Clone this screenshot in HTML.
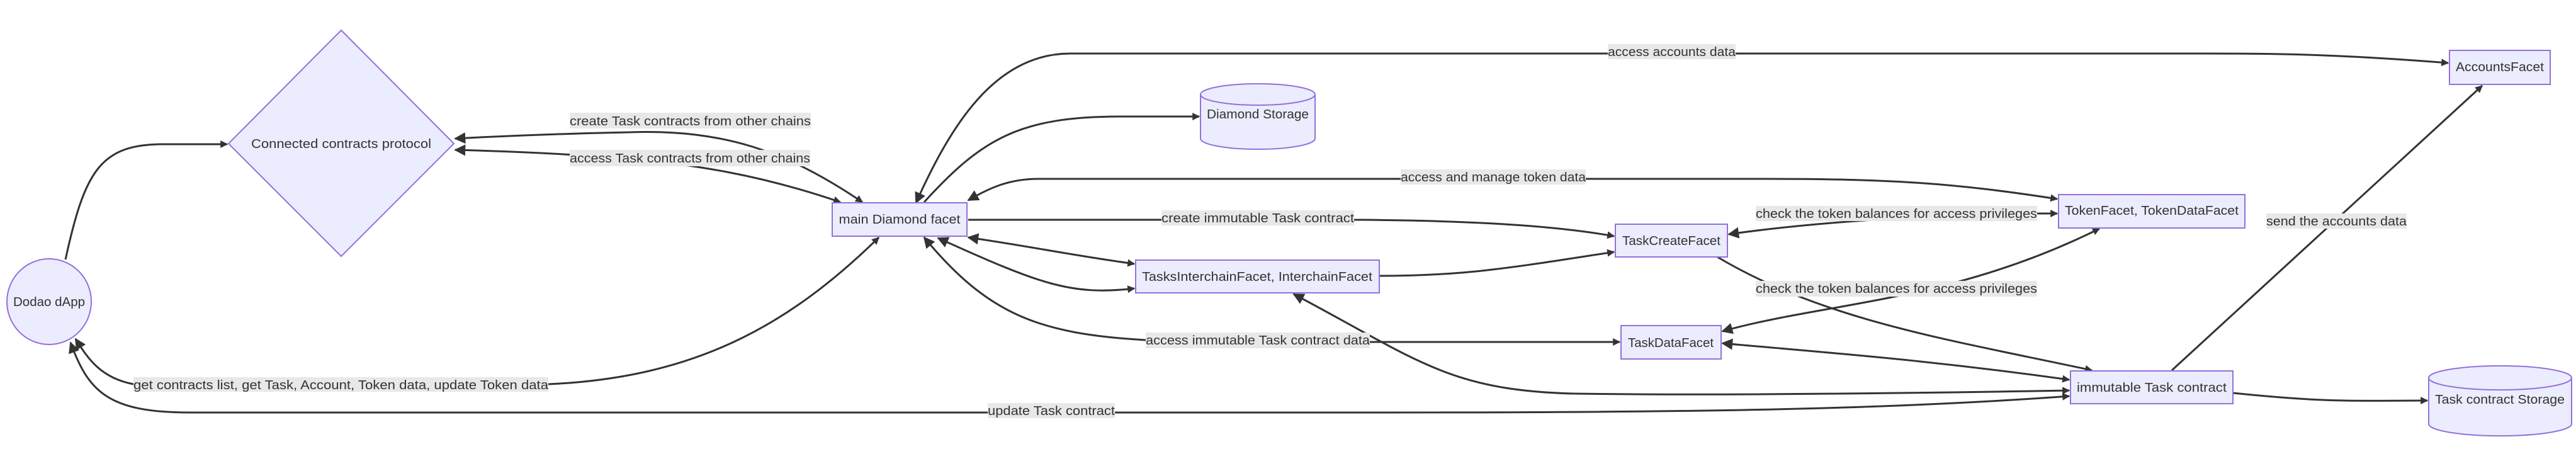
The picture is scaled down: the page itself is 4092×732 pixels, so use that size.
<!DOCTYPE html>
<html><head><meta charset="utf-8"><style>
html,body{margin:0;padding:0;background:#fff;}
svg{display:block}
.n{fill:#ECECFF;stroke:#9370DB;stroke-width:2}
.e{fill:none;stroke:#333;stroke-width:3}
.t{font-family:"Liberation Sans",sans-serif;font-size:20px;fill:#333;}
.lb{fill:#e8e8e8}
</style></head><body>
<svg width="4092" height="732" viewBox="0 0 4092 732" xmlns="http://www.w3.org/2000/svg">
<defs>
<marker id="s" viewBox="0 0 10 10" refX="9" refY="5" markerWidth="4" markerHeight="4" orient="auto-start-reverse"><path d="M0,0L10,5L0,10z" fill="#333"/></marker>
<marker id="b" viewBox="0 0 10 10" refX="9" refY="5" markerWidth="6" markerHeight="6" orient="auto-start-reverse"><path d="M0,0L10,5L0,10z" fill="#333"/></marker>
</defs>

<!-- edges -->
<path class="e" d="M104,412 C135,270 160,229 260,229 L361,229" marker-end="url(#s)"/>
<path class="e" d="M1370,321 C1250,240 1150,205 1000,210 C900,212 800,216 723,220" marker-start="url(#s)" marker-end="url(#b)"/>
<path class="e" d="M1335,321 C1200,275 1100,262 1000,252 C900,244 800,240 723,238" marker-start="url(#s)" marker-end="url(#b)"/>
<path class="e" d="M1396,377 C1250,520 1100,600 871,610 L212,610 C160,600 140,570 120,538" marker-start="url(#s)" marker-end="url(#b)"/>
<path class="e" d="M3287,629 C3000,650 2700,655 2200,655 L300,655 C170,655 140,620 112,544" marker-start="url(#s)" marker-end="url(#b)"/>
<path class="e" d="M3889,100 C3700,85 3600,85 3500,85 L1700,85 C1580,85 1510,200 1455,322" marker-start="url(#s)" marker-end="url(#b)"/>
<path class="e" d="M1468,321 C1560,220 1620,185 1780,185 L1905,185" marker-end="url(#s)"/>
<path class="e" d="M3268,316 C3100,290 3000,284 2800,284 L1650,284 C1600,284 1570,300 1538,318" marker-start="url(#s)" marker-end="url(#b)"/>
<path class="e" d="M1538,349 L2151,349 C2300,350 2450,355 2564,375" marker-end="url(#s)"/>
<path class="e" d="M1802,419 C1700,405 1630,390 1538,377" marker-start="url(#s)" marker-end="url(#b)"/>
<path class="e" d="M1802,458 C1700,470 1650,450 1490,378" marker-start="url(#s)" marker-end="url(#b)"/>
<path class="e" d="M2573,543 L2176,543 L1820,540 C1650,530 1570,500 1468,377" marker-start="url(#s)" marker-end="url(#b)"/>
<path class="e" d="M2191,438 C2330,438 2400,425 2564,400" marker-end="url(#s)"/>
<path class="e" d="M3268,339 L3236,339 C3100,340 2900,350 2746,372" marker-start="url(#s)" marker-end="url(#b)"/>
<path class="e" d="M2728,408 C2900,510 3100,540 3323,588" marker-end="url(#s)"/>
<path class="e" d="M3335,363 C3100,480 2900,480 2736,526" marker-start="url(#s)" marker-end="url(#b)"/>
<path class="e" d="M3287,603 C3050,570 2900,560 2736,545" marker-start="url(#s)" marker-end="url(#b)"/>
<path class="e" d="M3287,620 C3000,625 2700,628 2500,625 C2300,620 2250,570 2055,467" marker-start="url(#s)" marker-end="url(#b)"/>
<path class="e" d="M3450,588 L3943,136" marker-end="url(#s)"/>
<path class="e" d="M3547,624 C3700,640 3750,636 3856,636" marker-end="url(#s)"/>

<!-- nodes -->
<polygon class="n" points="542,48 721,228 542,407 363,228"/>
<text class="t" x="542" y="235" text-anchor="middle" textLength="286" lengthAdjust="spacingAndGlyphs">Connected contracts protocol</text>
<ellipse class="n" cx="78" cy="479" rx="67" ry="68"/>
<text class="t" x="78" y="486" text-anchor="middle" textLength="114" lengthAdjust="spacingAndGlyphs">Dodao dApp</text>

<rect class="n" x="1322" y="322" width="214" height="53"/>
<text class="t" x="1429" y="355" text-anchor="middle" textLength="193" lengthAdjust="spacingAndGlyphs">main Diamond facet</text>

<path class="n" d="M1907,150 A91,17 0 0 1 2089,150 L2089,220 A91,17 0 0 1 1907,220 Z"/>
<path d="M1907,150 A91,17 0 0 0 2089,150" fill="none" stroke="#9370DB" stroke-width="2"/>
<text class="t" x="1998" y="188" text-anchor="middle" textLength="162" lengthAdjust="spacingAndGlyphs">Diamond Storage</text>

<rect class="n" x="2566" y="356" width="178" height="52"/>
<text class="t" x="2655" y="389" text-anchor="middle" textLength="156" lengthAdjust="spacingAndGlyphs">TaskCreateFacet</text>
<rect class="n" x="1804" y="413" width="387" height="52"/>
<text class="t" x="1997" y="446" text-anchor="middle" textLength="366" lengthAdjust="spacingAndGlyphs">TasksInterchainFacet, InterchainFacet</text>
<rect class="n" x="2575" y="517" width="159" height="53"/>
<text class="t" x="2654" y="551" text-anchor="middle" textLength="136" lengthAdjust="spacingAndGlyphs">TaskDataFacet</text>
<rect class="n" x="3891" y="80" width="160" height="54"/>
<text class="t" x="3971" y="113" text-anchor="middle" textLength="140" lengthAdjust="spacingAndGlyphs">AccountsFacet</text>
<rect class="n" x="3270" y="309" width="296" height="53"/>
<text class="t" x="3418" y="341" text-anchor="middle" textLength="276" lengthAdjust="spacingAndGlyphs">TokenFacet, TokenDataFacet</text>
<rect class="n" x="3289" y="589" width="258" height="52"/>
<text class="t" x="3418" y="622" text-anchor="middle" textLength="238" lengthAdjust="spacingAndGlyphs">immutable Task contract</text>
<path class="n" d="M3858,600 A113,19 0 0 1 4085,600 L4085,673 A113,19 0 0 1 3858,673 Z"/>
<path d="M3858,600 A113,19 0 0 0 4085,600" fill="none" stroke="#9370DB" stroke-width="2"/>
<text class="t" x="3971" y="641" text-anchor="middle" textLength="206" lengthAdjust="spacingAndGlyphs">Task contract Storage</text>

<!-- labels -->
<rect class="lb" x="905" y="179" width="383" height="25"/>
<text class="t" x="905" y="199" textLength="383" lengthAdjust="spacingAndGlyphs">create Task contracts from other chains</text>
<rect class="lb" x="905" y="238" width="382" height="26"/>
<text class="t" x="905" y="258" textLength="382" lengthAdjust="spacingAndGlyphs">access Task contracts from other chains</text>
<rect class="lb" x="212" y="599" width="659" height="23"/>
<text class="t" x="212" y="618" textLength="659" lengthAdjust="spacingAndGlyphs">get contracts list, get Task, Account, Token data, update Token data</text>
<rect class="lb" x="2554" y="70" width="203" height="24"/>
<text class="t" x="2554" y="89" textLength="203" lengthAdjust="spacingAndGlyphs">access accounts data</text>
<rect class="lb" x="2225" y="269" width="294" height="24"/>
<text class="t" x="2225" y="288" textLength="294" lengthAdjust="spacingAndGlyphs">access and manage token data</text>
<rect class="lb" x="1845" y="334" width="306" height="24"/>
<text class="t" x="1845" y="353" textLength="306" lengthAdjust="spacingAndGlyphs">create immutable Task contract</text>
<rect class="lb" x="1820" y="528" width="356" height="25"/>
<text class="t" x="1820" y="547" textLength="356" lengthAdjust="spacingAndGlyphs">access immutable Task contract data</text>
<rect class="lb" x="1569" y="640" width="202" height="24"/>
<text class="t" x="1569" y="659" textLength="202" lengthAdjust="spacingAndGlyphs">update Task contract</text>
<rect class="lb" x="2789" y="327" width="447" height="24"/>
<text class="t" x="2789" y="346" textLength="447" lengthAdjust="spacingAndGlyphs">check the token balances for access privileges</text>
<rect class="lb" x="2789" y="446" width="447" height="25"/>
<text class="t" x="2789" y="465" textLength="447" lengthAdjust="spacingAndGlyphs">check the token balances for access privileges</text>
<rect class="lb" x="3600" y="339" width="223" height="24"/>
<text class="t" x="3600" y="358" textLength="223" lengthAdjust="spacingAndGlyphs">send the accounts data</text>
</svg>
</body></html>
